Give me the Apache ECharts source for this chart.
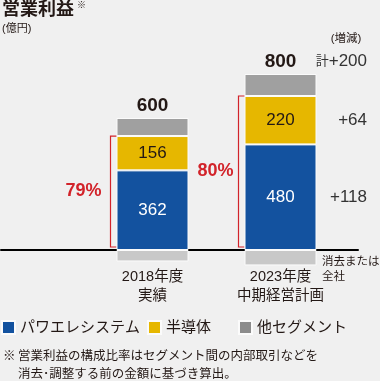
<!DOCTYPE html>
<html><head><meta charset="utf-8">
<script src="https://cdn.jsdelivr.net/npm/echarts@6/dist/echarts.min.js"></script>
<style>html,body{margin:0;padding:0;background:#f0f0f0}#c{width:380px;height:381px}</style>
</head><body><div id="c"></div>
<script>
// ---- data ----
const categories = ['2018年度\n実績', '2023年度\n中期経営計画'];
const powerSystems = [362, 480];
const semiconductors = [156, 220];
const otherSegments = [82, 100];
const eliminations = [-52, -70];
const totals = [600, 800];
const powerSemiShares = ['79%', '80%'];
const changeTotal = '+200';
const changeSemi = '+64';
const changePower = '+118';
const seriesNames = ['パワエレシステム', '半導体', '他セグメント', '消去または全社'];

// ---- style ----
const FONT = '"Liberation Sans", "Noto Sans CJK JP", sans-serif';
const BLUE = '#13529f', YELLOW = '#e6b700', GRAY = '#a0a0a0', ELIM = '#c8c8c8', RED = '#d2232a', INK = '#231815';
const BAR_W = 72;

const chart = echarts.init(document.getElementById('c'), null, {renderer: 'canvas'});
const segStyle = (c) => ({color: c, borderColor: '#fbfbfb', borderWidth: 1});
const legendCommon = {padding: 0, itemWidth: 13, itemHeight: 13, icon: 'rect', selectedMode: false,
  textStyle: {fontSize: 15, color: INK, fontFamily: FONT}, top: 320};

chart.setOption({
  backgroundColor: '#f0f0f0',
  animation: false,
  grid: [
    {left: 88.5, width: 256, top: 52, height: 220},
    {left: 1, width: 357, top: 52, height: 220}
  ],
  xAxis: [
    {type: 'category', data: categories, gridIndex: 0,
     axisLine: {show: false}, axisTick: {show: false},
     axisLabel: {margin: -5, fontSize: 14.5, lineHeight: 19, color: INK, fontFamily: FONT}},
    {type: 'value', gridIndex: 1, min: 0, max: 1,
     axisLine: {show: true, onZero: true, lineStyle: {color: '#000', width: 2}},
     axisTick: {show: false}, axisLabel: {show: false}, splitLine: {show: false}}
  ],
  yAxis: [
    {type: 'value', gridIndex: 0, min: -100, max: 900, show: false},
    {type: 'value', gridIndex: 1, min: -100, max: 900, show: false}
  ],
  legend: [
    Object.assign({left: 1, data: [{name: seriesNames[0]}]}, legendCommon),
    Object.assign({left: 147, data: [{name: seriesNames[1]}]}, legendCommon),
    Object.assign({left: 238, data: [{name: seriesNames[2], itemStyle: {color: '#8c8c8c'}}]}, legendCommon)
  ],
  series: [
    {name: seriesNames[0], type: 'bar', stack: 'a', barWidth: BAR_W, data: powerSystems,
     itemStyle: segStyle(BLUE),
     label: {show: true, position: 'inside', color: '#fff', fontSize: 17, fontFamily: FONT}},
    {name: seriesNames[1], type: 'bar', stack: 'a', barWidth: BAR_W, data: semiconductors,
     itemStyle: segStyle(YELLOW),
     label: {show: true, position: 'inside', color: INK, fontSize: 17, fontFamily: FONT}},
    {name: seriesNames[2], type: 'bar', stack: 'a', barWidth: BAR_W, data: otherSegments,
     itemStyle: segStyle(GRAY),
     label: {show: true, position: 'top', distance: 3, color: INK, fontSize: 19, fontWeight: 'bold',
             fontFamily: FONT, formatter: (p) => String(totals[p.dataIndex])}},
    {name: seriesNames[3], type: 'bar', stack: 'a', barWidth: BAR_W, data: eliminations,
     itemStyle: segStyle(ELIM), label: {show: false}}
  ]
});

const px = (ci, v) => chart.convertToPixel({gridIndex: 0}, [ci, v]);
const g = [];
const txt = (text, x, y, font, fill, align, extra) => g.push(Object.assign({
  type: 'text', silent: true,
  style: {text, x, y, font, fill, textAlign: align || 'left', textVerticalAlign: 'middle'}
}, extra || {}));

// title
txt('営業利益', 2, 10, 'bold 18px ' + FONT, INK);
txt('※', 77, 6, '9px ' + FONT, INK);
txt('(億円)', 2, 29, '11px ' + FONT, INK);

// brackets and share labels
const shareGap = [9, 5];
categories.forEach((c, i) => {
  const top = px(i, powerSystems[i] + semiconductors[i])[1];
  const zero = px(i, 0);
  const bottom = zero[1] - 3;
  const bx = Math.round(zero[0] - BAR_W / 2 - 6.5) + 0.5;
  g.push({type: 'polyline', silent: true,
    shape: {points: [[bx + 6, top], [bx, top], [bx, bottom], [bx + 6, bottom]]},
    style: {stroke: RED, lineWidth: 1.2, fill: null}});
  txt(powerSemiShares[i], bx - shareGap[i], (top + bottom) / 2, 'bold 18px ' + FONT, RED, 'right');
});

// change column
const RX = 367;
txt('(増減)', 346, 39, '11.5px ' + FONT, INK, 'center');
g.push({type: 'text', silent: true, style: {
  text: '{a|計}{b|' + changeTotal + '}', x: RX, y: px(1, totals[1])[1] - 13,
  textAlign: 'right', textVerticalAlign: 'middle',
  rich: {a: {fontSize: 13, fontFamily: FONT, fill: '#333'}, b: {fontSize: 17, fontFamily: FONT, fill: '#333'}}
}});
txt(changeSemi, RX, px(1, powerSystems[1] + semiconductors[1] / 2)[1], '17px ' + FONT, '#333', 'right');
txt(changePower, RX, px(1, powerSystems[1] / 2)[1], '17px ' + FONT, '#333', 'right');
txt('消去または', 322, 261.5, '11.5px ' + FONT, INK);
txt('全社', 322, 276.7, '11.5px ' + FONT, INK);

// footnote
txt('※', 3, 356.7, '12.5px ' + FONT, INK);
txt('営業利益の構成比率はセグメント間の内部取引などを', 18, 356.7, '12.5px ' + FONT, INK);
txt('消去･調整する前の金額に基づき算出。', 18, 375, '12.5px ' + FONT, INK);

chart.setOption({graphic: g});
</script></body></html>
